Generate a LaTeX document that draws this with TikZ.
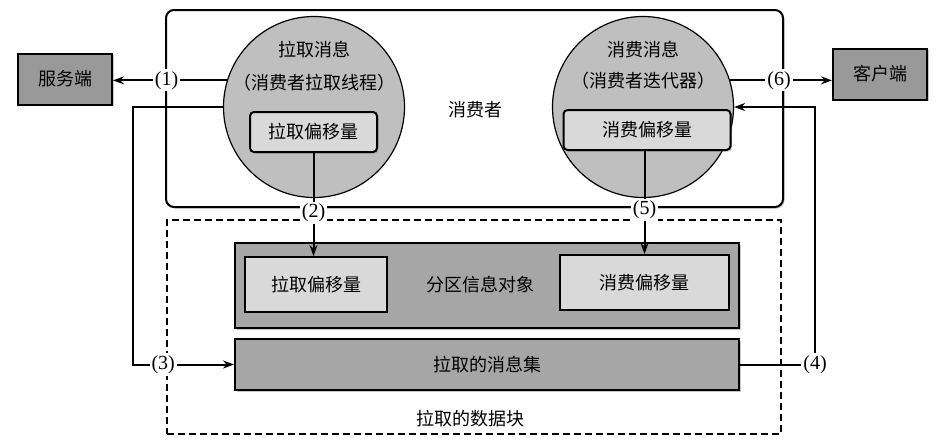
\documentclass[tikz,border=0pt]{standalone}
\usepackage{fontspec}
\newfontfamily\cjk{Noto Sans CJK SC}
\newfontfamily\numfont{Liberation Serif}
\usetikzlibrary{arrows.meta,shadows}
\definecolor{boxgray}{gray}{0.6}
\definecolor{circgray}{gray}{0.75}
\definecolor{innergray}{gray}{0.85}
\definecolor{partgray}{gray}{0.65}
\begin{document}
\begin{tikzpicture}[x=1pt,y=-1pt,line width=2pt,
        >={Stealth[length=11pt,width=8pt]},
        every node/.style={font=\cjk\fontsize{18}{21}\selectfont},
        shade/.style={drop shadow={shadow xshift=1.5pt,shadow yshift=-1.5pt,opacity=0.45}},
        endbox/.style={draw,fill=boxgray,shade,minimum width=94pt,minimum height=51pt},
        proc/.style={circle,draw,line width=1.2pt,fill=circgray,minimum size=181pt,inner sep=0pt},
        offbox/.style={draw,fill=innergray,shade,rounded corners=4pt,minimum height=40pt},
        partbox/.style={draw,fill=innergray,minimum height=55pt},
        bigbox/.style={draw,fill=partgray,shade,minimum width=504pt},
        lbl/.style={fill=white,inner sep=2pt,font=\numfont\fontsize{20}{22}\selectfont}]
\useasboundingbox (0,0) rectangle (942,445);

% consumer and fetched chunk
\node[draw,rounded corners=8pt,shade,fill=white,minimum width=617pt,minimum height=197pt] (consumer) at (474.5,108.5) {};
\node[draw,dash pattern=on 7pt off 4pt,line width=1.5pt,minimum width=614pt,minimum height=214pt] (chunk) at (474,327) {};
\node at (475,110) {消费者};
\node at (470,419) {拉取的数据块};

% threads
\node[proc] (fetcher) at (314,107) {};
\node[proc] (iter) at (643,107) {};
\node at (314,50) {拉取消息};
\node at (314,83) {（消费者拉取线程）};
\node at (643,50) {消费消息};
\node at (643,81) {（消费者迭代器）};
\node[offbox,minimum width=127pt] (fetchoff) at (313.5,132) {拉取偏移量};
\node[offbox,minimum width=167pt] (consoff) at (647,130) {消费偏移量};

% ends
\node[endbox] (server) at (65,79) {服务端};
\node[endbox] (client) at (880,74) {客户端};

% partition info and message set
\node[bigbox,minimum height=85pt] (partinfo) at (487,285.5) {};
\node at (480,285) {分区信息对象};
\node[partbox,minimum width=142pt] (partfetch) at (316,284.5) {拉取偏移量};
\node[partbox,minimum width=169pt] (partcons) at (644.5,282.5) {消费偏移量};
\node[bigbox,minimum height=51pt] (msgset) at (487,364.5) {拉取的消息集};

% steps
\draw[->] (fetcher.163) -- (fetcher.163 -| server.east) node[lbl,pos=0.53] {(1)};
\draw[->] (fetchoff.south) -- (fetchoff.south |- partfetch.north) node[lbl,pos=0.58] {(2)};
\draw[->] (fetcher.west) -- ++(-90,0) |- (msgset.west) node[lbl,pos=0.65] {(3)};
\draw[->] (msgset.east) -- ++(75,0) node[lbl] {(4)} |- (iter.east);
\draw[->] (partcons.north |- consoff.south) -- (partcons.north) node[lbl,pos=0.57] {(5)};
\draw[->] (iter.17) -- (iter.17 -| client.west) node[lbl,pos=0.48] {(6)};
\end{tikzpicture}
\end{document}
